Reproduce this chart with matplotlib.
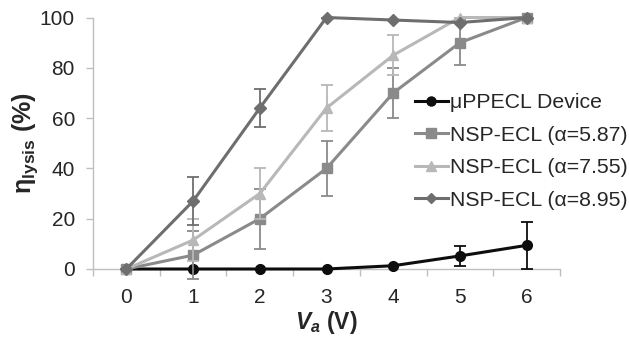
import matplotlib
matplotlib.use("Agg")
import matplotlib.pyplot as plt
from matplotlib.lines import Line2D

plt.rcParams['font.family'] = ['Liberation Sans', 'DejaVu Sans']
plt.rcParams['mathtext.fontset'] = 'custom'
plt.rcParams['mathtext.rm'] = 'Liberation Sans:bold'
plt.rcParams['mathtext.bf'] = 'Liberation Sans:bold'
plt.rcParams['mathtext.it'] = 'Liberation Sans:italic:bold'

voltages = [0, 1, 2, 3, 4, 5, 6]
labels = ["μPPECL Device", "NSP-ECL (α=5.87)", "NSP-ECL (α=7.55)", "NSP-ECL (α=8.95)"]
uppecl = [0, 0, 0, 0, 1.3, 5.2, 9.4]
uppecl_err = [0, 0, 0, 0, 0, 4.0, 9.3]
nsp587 = [0, 5.5, 20, 40, 70, 90, 100]
nsp587_err = [0, 9.5, 12, 11, 10, 9, 0]
nsp755 = [0, 11.5, 30, 64, 85, 100, 100]
nsp755_err = [0, 8.5, 10, 9, 8, 0, 0]
nsp895 = [0, 27, 64, 100, 99, 98, 100]
nsp895_err = [0, 9.5, 7.5, 0, 0, 0, 0]

series = [uppecl, nsp587, nsp755, nsp895]
errs = [uppecl_err, nsp587_err, nsp755_err, nsp895_err]
colors = ['#0d0d0d', '#8a8a8a', '#b8b8b8', '#6e6e6e']
markers = ['o', 's', '^', 'D']
msizes = [7, 7, 7, 6]

fig = plt.figure(figsize=(6.29, 3.45), dpi=100)
ax = fig.add_axes([93/629, 1-269/345, (560-93)/629, (269-17.5)/345])

order = [3, 2, 1, 0]
for i in order:
    eb = ax.errorbar(voltages, series[i], yerr=errs[i], color=colors[i], marker=markers[i],
                     markersize=msizes[i], linewidth=2.2, elinewidth=1.3, capsize=4, capthick=1.3,
                     clip_on=False, zorder=3+i)
    eb.lines[0].set_clip_on(False)
    for c in eb.lines[1]:
        c.set_clip_on(False)
    for c in eb.lines[2]:
        c.set_clip_on(False)

handles = [Line2D([], [], color=colors[i], marker=markers[i], markersize=msizes[i] - 0.5, linewidth=2.2)
           for i in range(4)]
leg = fig.legend(handles, labels, loc='upper left', bbox_to_anchor=(415/629, 1-93/345),
                 frameon=False, fontsize=15.3, handlelength=1.55, handletextpad=0.1,
                 labelspacing=0.64, borderpad=0, borderaxespad=0)
for t in leg.get_texts():
    t.set_color('#262626')

ax.set_xlim(-0.5, 6.5)
ax.set_ylim(0, 100)
ax.set_yticks([0, 20, 40, 60, 80, 100])
ax.set_xticks(voltages)
ax.set_xticks([x - 0.5 for x in range(8)], minor=True)
ax.tick_params(axis='x', which='major', length=0, pad=14, labelsize=15, labelcolor='#262626')
ax.tick_params(axis='x', which='minor', length=5, width=1, color='#bfbfbf', direction='out')
ax.tick_params(axis='y', which='major', length=5, width=1, color='#bfbfbf', labelsize=15,
               labelcolor='#262626', pad=8)
for s in ['top', 'right']:
    ax.spines[s].set_visible(False)
for s in ['left', 'bottom']:
    ax.spines[s].set_color('#bfbfbf')
    ax.spines[s].set_linewidth(1)

ax.set_xlabel(r"$V_a$ (V)", fontsize=16.5, fontweight='bold', color='#262626', labelpad=1)
ax.set_ylabel(r"η$_{\mathrm{lysis}}$ (%)", fontsize=18, fontweight='bold', color='#262626', labelpad=0)

fig.savefig("out.png", dpi=100)
